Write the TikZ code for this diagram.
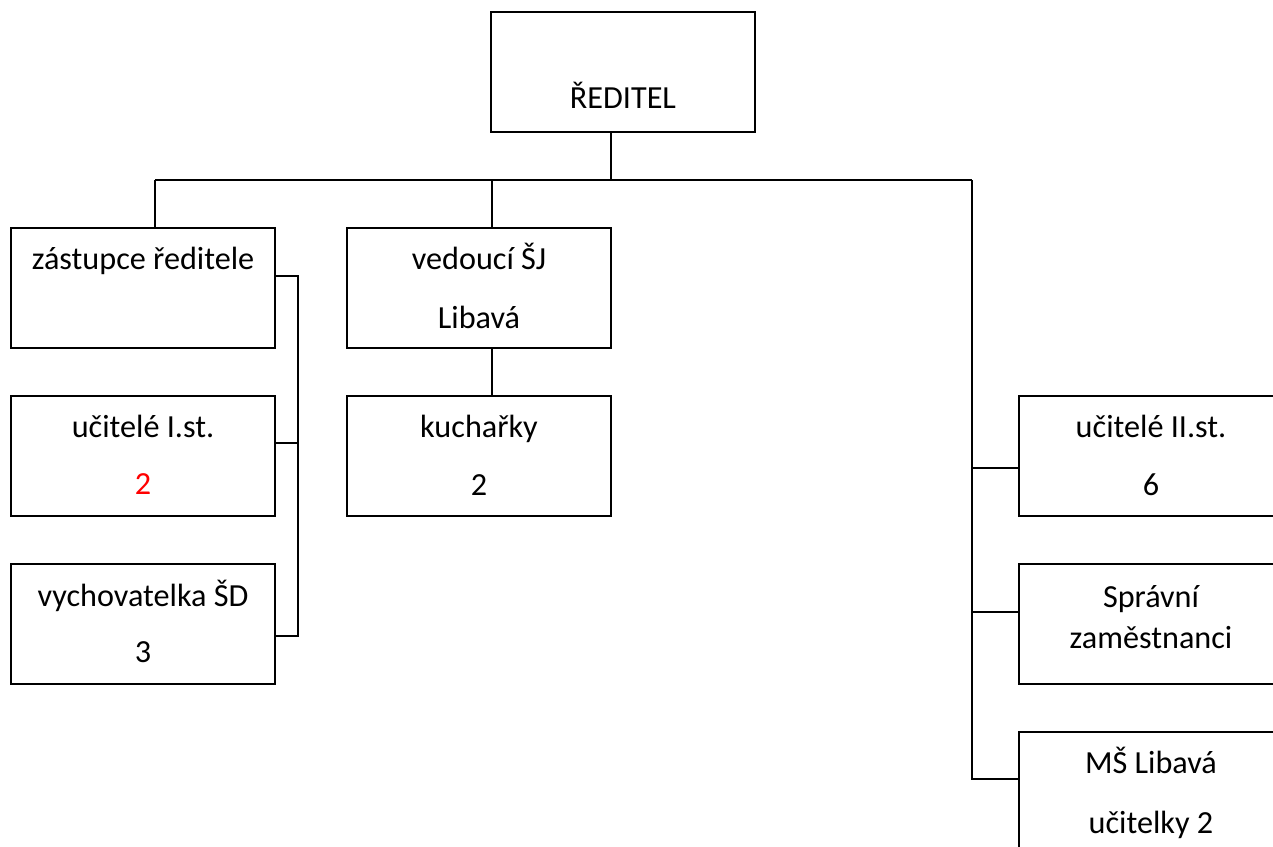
\documentclass[tikz,border=0pt]{standalone}
\usepackage{fontspec}
\setmainfont{Carlito}
\begin{document}
\begin{tikzpicture}[x=1pt,y=-1pt,
  box/.style={draw=black, line width=2pt, minimum width=264pt, minimum height=120pt, inner sep=0pt, outer sep=0pt},
  txt/.style={anchor=base, inner sep=0pt, font=\fontsize{32.2}{38}\selectfont},
  con/.style={draw=black, line width=2pt}]
\useasboundingbox (0,0) rectangle (1273,846);
% boxes
\node[box] (dir) at (623,72) {};
\node[box] (zast) at (143,288) {};
\node[box] (uc1) at (143,456) {};
\node[box] (vych) at (143,624) {};
\node[box] (ved) at (479,288) {};
\node[box] (kuch) at (479,456) {};
\node[box] (uc2) at (1151,456) {};
\node[box] (sprav) at (1151,624) {};
\node[box] (ms) at (1151,792) {};
% texts
\node[txt] (t1) at (623,108) {ŘEDITEL};
\node[txt] (t2) at (143,269) {zástupce ředitele};
\node[txt] (t3) at (143,437) {učitelé I.st.};
\node[txt, text=red] (t4) at (143,494) {2};
\node[txt] (t5) at (143,606) {vychovatelka ŠD};
\node[txt] (t6) at (143,662) {3};
\node[txt] (t7) at (479,269) {vedoucí ŠJ};
\node[txt] (t8) at (479,328) {Libavá};
\node[txt] (t9) at (479,437) {kuchařky};
\node[txt] (t10) at (479,495) {2};
\node[txt] (t11) at (1151,437) {učitelé II.st.};
\node[txt] (t12) at (1151,495) {6};
\node[txt] (t13) at (1151,607) {Správní};
\node[txt] (t14) at (1151,648) {zaměstnanci};
\node[txt] (t15) at (1151,773) {MŠ Libavá};
\node[txt] (t16) at (1151,833) {učitelky 2};
% connector points
\coordinate (dtap) at (611,180);
\coordinate (busL) at (155,180);
\coordinate (bmid) at (492,180);
\coordinate (busR) at (972,180);
\coordinate (l1) at (298,276);
\coordinate (l2) at (298,443);
\coordinate (l3) at (298,636);
\coordinate (r1) at (972,468);
\coordinate (r2) at (972,612);
\coordinate (r3) at (972,779);
% connectors
\draw[con] (dir.south -| dtap) -- (dtap);
\draw[con] (busL) -- (busR);
\draw[con] (zast.north -| busL) -- (busL);
\draw[con] (ved.north -| bmid) -- (bmid);
\draw[con] (ved.south -| bmid) -- (kuch.north -| bmid);
\draw[con] (zast.east |- l1) -- (l1) -- (l3) -- (vych.east |- l3);
\draw[con] (uc1.east |- l2) -- (l2);
\draw[con] (busR) -- (r3) -- (ms.west |- r3);
\draw[con] (r1) -- (uc2.west |- r1);
\draw[con] (r2) -- (sprav.west |- r2);
\end{tikzpicture}
\end{document}
